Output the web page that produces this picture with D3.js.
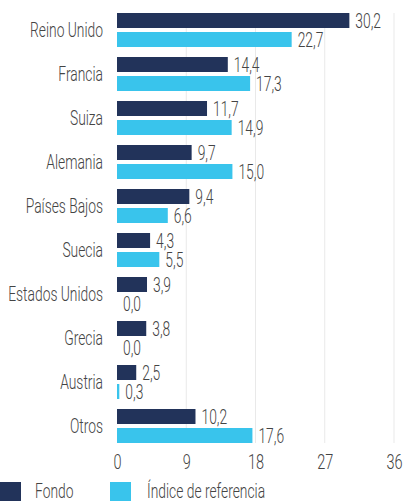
<!DOCTYPE html>
<html><head><meta charset="utf-8">
<script src="https://cdn.jsdelivr.net/npm/d3@7"></script>
<style>
body{margin:0;background:#fff;}
svg text{font-family:Roboto,"DejaVu Sans",sans-serif;font-weight:300;fill:#444;}
</style></head><body>
<svg id="c" width="403" height="501"></svg>
<script>
const categories = ["Reino Unido","Francia","Suiza","Alemania","Países Bajos","Suecia","Estados Unidos","Grecia","Austria","Otros"];
const fondo = [30.2,14.4,11.7,9.7,9.4,4.3,3.9,3.8,2.5,10.2];
const indice = [22.7,17.3,14.9,15.0,6.6,5.5,0.0,0.0,0.3,17.6];
const seriesNames = ["Fondo","Índice de referencia"];
const colors = ["#22335a","#39c4ec"];
const ticks = [0,9,18,27,36];

const svg = d3.select("#c");
const FS = 20;
// condensed look: measure a sample and compress horizontally
const probe = svg.append("text").attr("font-size",FS).text("Reino Unido");
const SX = 73 / probe.node().getComputedTextLength();
probe.remove();

function ctext(sel, x, y, anchor){
  return sel.attr("transform",(d,i)=>`translate(${x(d,i)},${y(d,i)}) scale(${SX},1)`)
    .attr("text-anchor",anchor).attr("font-size",FS).attr("dy","0.35em");
}

const x = d3.scaleLinear().domain([0,36]).range([117,394]);
const y = d3.scaleBand().domain(categories).range([13,453]).paddingInner(0).paddingOuter(0);
const barH = 15, gap = 4;
const fmt = v => v.toFixed(1).replace(".", ",");

// gridlines
svg.append("g").selectAll("line").data(ticks.slice(1)).join("line")
  .attr("x1",d=>x(d)).attr("x2",d=>x(d)).attr("y1",13).attr("y2",443)
  .attr("stroke","#e9e9e9").attr("stroke-width",1);

const series = [fondo, indice];
series.forEach((vals,si)=>{
  const g = svg.append("g");
  g.selectAll("rect").data(categories).join("rect")
    .attr("x",x(0)).attr("y",(d)=>y(d)+si*(barH+gap))
    .attr("width",(d,i)=>x(vals[i])-x(0)).attr("height",barH)
    .attr("fill",colors[si]);
  ctext(g.selectAll("text").data(categories).join("text"),
    (d,i)=>x(vals[i])+6, (d)=>y(d)+si*(barH+gap)+barH/2, "start")
    .text((d,i)=>fmt(vals[i]));
});

// category labels
ctext(svg.append("g").selectAll("text").data(categories).join("text"),
  d=>103, d=>y(d)+(2*barH+gap)/2, "end").text(d=>d);

// x axis
const ax = svg.append("g").attr("transform","translate(0,462)")
  .call(d3.axisBottom(x).tickValues(ticks).tickSize(0).tickPadding(0).tickFormat(d3.format("d")));
ax.select(".domain").remove();
ax.selectAll("text").attr("y",0).attr("dy","0.35em").attr("font-size",FS+1)
  .attr("transform",`scale(${SX},1)`)
  .style("font-family","Roboto,'DejaVu Sans',sans-serif").style("font-weight",300).attr("fill","#444");

// legend
const leg = svg.append("g");
const lx = [0,110], tx=[35,147];
seriesNames.forEach((n,i)=>{
  leg.append("rect").attr("x",lx[i]).attr("y",482).attr("width",21).attr("height",21).attr("fill",colors[i]);
  leg.append("text").attr("transform",`translate(${tx[i]},498) scale(${SX},1)`).attr("font-size",FS).text(n);
});
</script></body></html>
